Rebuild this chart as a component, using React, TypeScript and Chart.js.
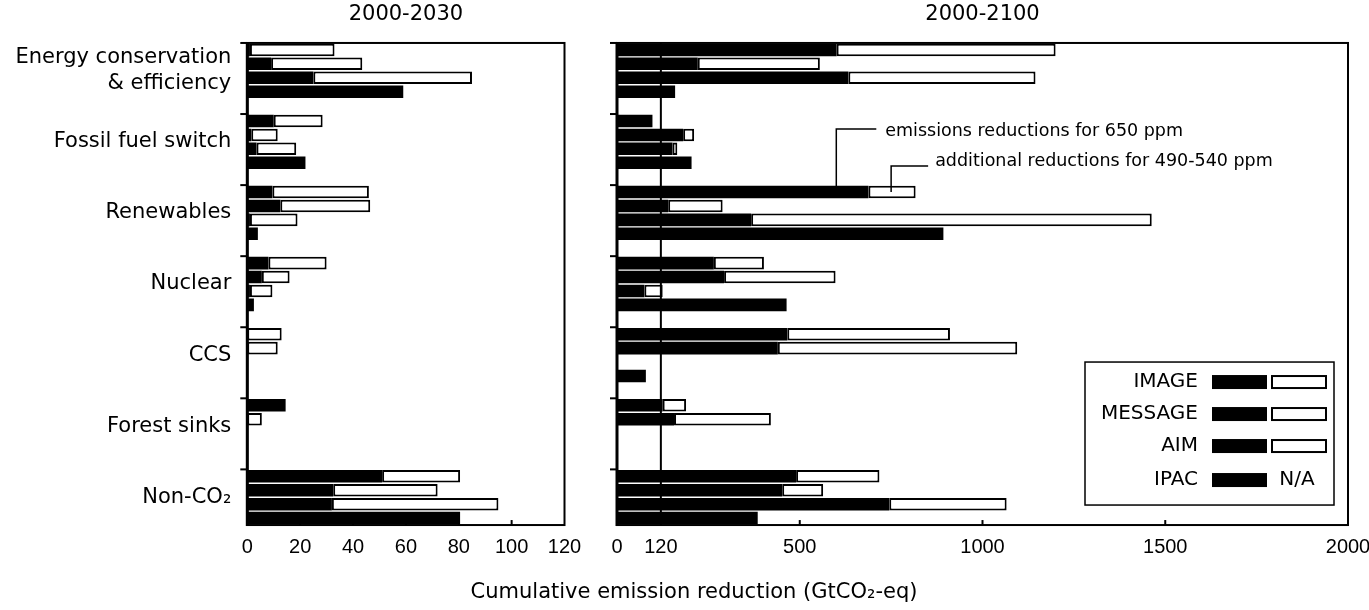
import React, { useEffect, useRef } from 'react';
import { Chart, registerables } from 'chart.js';

Chart.register(...registerables);

// ---------------- data ----------------
const CATEGORIES = [
  ['Energy conservation', '& efficiency'],
  'Fossil fuel switch',
  'Renewables',
  'Nuclear',
  'CCS',
  'Forest sinks',
  'Non-CO₂',
];
const MODELS = ['IMAGE', 'MESSAGE', 'AIM', 'IPAC'];

// 2000-2030 cumulative reductions (GtCO2-eq): for 650 ppm / additional for 490-540 ppm
const IMAGE_650_2030 = [1, 10, 9.5, 8, 0, 14.5, 51];
const IMAGE_ADD_2030 = [32, 18.5, 36.5, 22, 13, null, 29.5];
const MESSAGE_650_2030 = [9, 1.5, 12.5, 5.5, 0, 0, 32.5];
const MESSAGE_ADD_2030 = [34.5, 10, 34, 10.5, 11.5, 5.5, 39.5];
const AIM_650_2030 = [25, 3.5, 1, 1, null, null, 32];
const AIM_ADD_2030 = [60, 15, 18, 8.5, null, null, 63];
const IPAC_650_2030 = [59, 22, 4, 2.5, null, null, 80.5];

// 2000-2100 cumulative reductions (GtCO2-eq)
const IMAGE_650_2100 = [601, 97, 688, 265, 466, 125, 490];
const IMAGE_ADD_2100 = [599, null, 129, 137, 445, 64, 228];
const MESSAGE_650_2100 = [221, 181, 140, 293, 440, 156, 452];
const MESSAGE_ADD_2100 = [334, 30, 149, 305, 655, 265, 112];
const AIM_650_2100 = [633, 152, 367, 75, null, null, 745];
const AIM_ADD_2100 = [512, 13, 1096, 50, null, null, 321];
const IPAC_650_2100 = [159, 204, 893, 464, 79, null, 385];

const TICKS_2030 = [0, 20, 40, 60, 80, 100, 120];
const TICKS_2100 = [0, 120, 500, 1000, 1500, 2000];
const MAX_2030 = 120;
const MAX_2100 = 2000;
const REF_LINE_2100 = 120;

const TITLE_2030 = '2000-2030';
const TITLE_2100 = '2000-2100';
const AXIS_TITLE = 'Cumulative emission reduction (GtCO₂-eq)';
const NOTE_650 = 'emissions reductions for 650 ppm';
const NOTE_ADD = 'additional reductions for 490-540 ppm';
const NOTE_CATEGORY = 2; // Renewables, IMAGE bar
const NOTE_650_AT = 600;
const NOTE_ADD_AT = 750;

// ---------------- styling ----------------
const W = 1369;
const H = 610;
const CAT_PCT = 0.783;
const BAR_PCT = 0.9;
const FONT_TEXT = "'DejaVu Sans', 'Liberation Sans', sans-serif";
const FONT_NUM = "'Liberation Sans', Arial, sans-serif";
const PAD_TOP = 35.25;
const PAD_BOTTOM = 47.25;

function blackSet(model: string, data: any[]) {
  return {
    label: model + ' 650 ppm',
    data,
    stack: model,
    backgroundColor: '#000',
    borderWidth: 0,
  };
}
function whiteSet(model: string, data: any[]) {
  return {
    label: model + ' 490-540 ppm',
    data,
    stack: model,
    backgroundColor: '#fff',
    borderColor: '#000',
    borderWidth: 2,
    borderSkipped: false,
  };
}

const panelPlugin = {
  id: 'panel',
  afterDraw(chart: any, _args: any, opts: any) {
    const { ctx, chartArea: ca } = chart;
    const x = chart.scales.x;
    const y = chart.scales.y;
    const n = chart.data.labels.length;
    const band = (ca.bottom - ca.top) / n;
    const groupH = band * CAT_PCT;
    const groupTop = (i: number) => y.getPixelForTick(i) - groupH / 2;
    const top = groupTop(0);
    const bottom = groupTop(n - 1) + groupH;
    const line = (x1: number, y1: number, x2: number, y2: number) => {
      ctx.beginPath();
      ctx.moveTo(x1, y1);
      ctx.lineTo(x2, y2);
      ctx.stroke();
    };
    ctx.save();
    ctx.strokeStyle = '#000';
    ctx.fillStyle = '#000';
    ctx.lineWidth = 2;
    ctx.strokeRect(ca.left, top, ca.right - ca.left, bottom - top);
    ctx.lineWidth = 3;
    line(ca.left, top - 1, ca.left, bottom + 1);
    ctx.lineWidth = 2;
    for (let i = 0; i < n; i++) line(ca.left - 7, groupTop(i), ca.left, groupTop(i));
    x.ticks.forEach((t: any) => {
      if (t.value > x.min && t.value < x.max) {
        const px = x.getPixelForValue(t.value);
        line(px, bottom, px, bottom - 5);
      }
    });
    if (opts.refLine != null) {
      const px = x.getPixelForValue(opts.refLine);
      ctx.lineWidth = 2;
      line(px, top, px, bottom);
    }
    // panel title
    ctx.font = `21px ${FONT_TEXT}`;
    ctx.textAlign = 'center';
    ctx.textBaseline = 'middle';
    ctx.fillText(opts.title, (ca.left + ca.right) / 2, 15);

    if (opts.extras) {
      // common axis title
      ctx.font = `21px ${FONT_TEXT}`;
      ctx.textAlign = 'center';
      ctx.fillText(AXIS_TITLE, 694, 593);

      // annotations
      const gt = groupTop(NOTE_CATEGORY);
      const barCy = gt + groupH / 8;
      ctx.lineWidth = 1.5;
      const x1 = x.getPixelForValue(NOTE_650_AT);
      ctx.beginPath();
      ctx.moveTo(x1, barCy);
      ctx.lineTo(x1, gt - 56);
      ctx.lineTo(x1 + 40, gt - 56);
      ctx.stroke();
      const x2 = x.getPixelForValue(NOTE_ADD_AT);
      ctx.beginPath();
      ctx.moveTo(x2, barCy);
      ctx.lineTo(x2, gt - 19);
      ctx.lineTo(x2 + 37, gt - 19);
      ctx.stroke();
      ctx.font = `17.5px ${FONT_TEXT}`;
      ctx.textAlign = 'left';
      ctx.fillText(NOTE_650, x1 + 49, gt - 54);
      ctx.fillText(NOTE_ADD, x2 + 44, gt - 24);

      // legend
      const bx1 = ca.right - 263;
      const bx2 = ca.right - 14;
      const by2 = bottom - 20;
      const by1 = by2 - 143;
      ctx.fillStyle = '#fff';
      ctx.fillRect(bx1, by1, bx2 - bx1, by2 - by1);
      ctx.fillStyle = '#000';
      ctx.lineWidth = 1.5;
      ctx.strokeRect(bx1, by1, bx2 - bx1, by2 - by1);
      const rows = [20, 52, 84, 118];
      MODELS.forEach((m, k) => {
        const cy = by1 + rows[k];
        ctx.font = `20px ${FONT_TEXT}`;
        ctx.textAlign = 'right';
        ctx.fillStyle = '#000';
        ctx.fillText(m, bx1 + 113, cy);
        ctx.fillRect(bx1 + 127, cy - 7, 55, 14);
        if (k < 3) {
          ctx.fillStyle = '#fff';
          ctx.fillRect(bx1 + 187, cy - 6, 54, 12);
          ctx.lineWidth = 2;
          ctx.strokeRect(bx1 + 187, cy - 6, 54, 12);
          ctx.fillStyle = '#000';
        } else {
          ctx.textAlign = 'center';
          ctx.fillText('N/A', bx1 + 212, cy);
        }
      });
    }
    ctx.restore();
  },
};

function makeConfig(p: {
  sets: any[];
  max: number;
  ticks: number[];
  left: number;
  right: number;
  showLabels: boolean;
  yWidth: number;
  panel: any;
}) {
  return {
    type: 'bar',
    data: { labels: CATEGORIES, datasets: p.sets },
    options: {
      indexAxis: 'y',
      animation: false,
      responsive: false,
      maintainAspectRatio: false,
      devicePixelRatio: 1,
      events: [],
      datasets: { bar: { categoryPercentage: CAT_PCT, barPercentage: BAR_PCT } },
      layout: { padding: { left: p.left, right: p.right, top: PAD_TOP, bottom: PAD_BOTTOM } },
      plugins: {
        legend: { display: false },
        tooltip: { enabled: false },
        title: { display: false },
        panel: p.panel,
      },
      scales: {
        x: {
          type: 'linear',
          stacked: true,
          min: 0,
          max: p.max,
          grid: { display: false, drawTicks: false },
          border: { display: false },
          ticks: {
            padding: 3,
            color: '#000',
            autoSkip: false,
            maxRotation: 0,
            font: { family: FONT_NUM, size: 20 },
            callback: (v: any) => String(v),
          },
          afterBuildTicks: (s: any) => {
            s.ticks = p.ticks.map((v) => ({ value: v }));
          },
          afterFit: (s: any) => {
            s.paddingLeft = 0;
            s.paddingRight = 0;
          },
        },
        y: {
          type: 'category',
          offset: true,
          grid: { display: false, drawTicks: false },
          border: { display: false },
          ticks: {
            display: p.showLabels,
            padding: 16,
            color: '#000',
            autoSkip: false,
            font: { family: FONT_TEXT, size: 21, lineHeight: 1.25 },
          },
          afterFit: (s: any) => {
            s.width = p.yWidth;
            s.paddingTop = 0;
            s.paddingBottom = 0;
          },
        },
      },
    },
    plugins: [panelPlugin],
  } as any;
}

export default function App() {
  const leftRef = useRef<HTMLCanvasElement>(null);
  const rightRef = useRef<HTMLCanvasElement>(null);

  useEffect(() => {
    const left = new Chart(
      leftRef.current as HTMLCanvasElement,
      makeConfig({
        sets: [
          blackSet('IMAGE', IMAGE_650_2030),
          whiteSet('IMAGE', IMAGE_ADD_2030),
          blackSet('MESSAGE', MESSAGE_650_2030),
          whiteSet('MESSAGE', MESSAGE_ADD_2030),
          blackSet('AIM', AIM_650_2030),
          whiteSet('AIM', AIM_ADD_2030),
          blackSet('IPAC', IPAC_650_2030),
        ],
        max: MAX_2030,
        ticks: TICKS_2030,
        left: 0,
        right: W - 564.5,
        showLabels: true,
        yWidth: 247.3,
        panel: { title: TITLE_2030, refLine: null, extras: false },
      })
    );
    const right = new Chart(
      rightRef.current as HTMLCanvasElement,
      makeConfig({
        sets: [
          blackSet('IMAGE', IMAGE_650_2100),
          whiteSet('IMAGE', IMAGE_ADD_2100),
          blackSet('MESSAGE', MESSAGE_650_2100),
          whiteSet('MESSAGE', MESSAGE_ADD_2100),
          blackSet('AIM', AIM_650_2100),
          whiteSet('AIM', AIM_ADD_2100),
          blackSet('IPAC', IPAC_650_2100),
        ],
        max: MAX_2100,
        ticks: TICKS_2100,
        left: 617,
        right: 21,
        showLabels: false,
        yWidth: 0,
        panel: { title: TITLE_2100, refLine: REF_LINE_2100, extras: true },
      })
    );
    return () => {
      left.destroy();
      right.destroy();
    };
  }, []);

  const canvasStyle: React.CSSProperties = {
    position: 'absolute',
    left: 0,
    top: 0,
    width: W,
    height: H,
  };

  return (
    <div style={{ position: 'fixed', left: 0, top: 0, width: W, height: H, background: '#fff' }}>
      <canvas ref={leftRef} width={W} height={H} style={canvasStyle} />
      <canvas ref={rightRef} width={W} height={H} style={canvasStyle} />
    </div>
  );
}
